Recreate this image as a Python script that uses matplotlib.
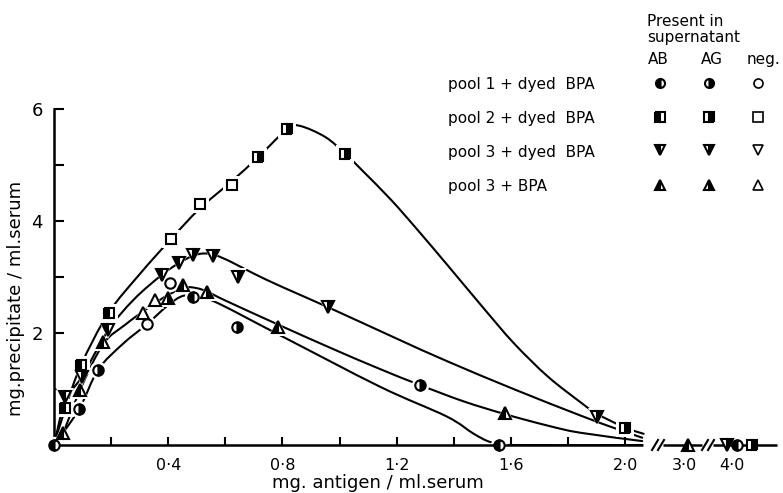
import numpy as np
import matplotlib
matplotlib.use('Agg')
import matplotlib.pyplot as plt
from matplotlib.transforms import ScaledTranslation
from matplotlib.path import Path
from matplotlib.patches import PathPatch

plt.rcParams['font.family'] = ['DejaVu Sans']

# ---------------- data ----------------
# pool 1 + dyed BPA (circles)
pool1_x = [0.0, 0.088, 0.154, 0.326, 0.406, 0.487, 0.641, 1.282, 1.56, 4.0]
pool1_y = [0.0, 0.64, 1.34, 2.16, 2.89, 2.64, 2.11, 1.07, 0.0, 0.0]
pool1_s = ['AB', 'AG', 'AG', 'neg', 'neg', 'AB', 'AG', 'AG', 'AB', 'AB']

# pool 2 + dyed BPA (squares)
pool2_x = [0.039, 0.095, 0.193, 0.41, 0.512, 0.623, 0.715, 0.816, 1.019, 2.0, 4.0]
pool2_y = [0.66, 1.43, 2.36, 3.68, 4.30, 4.64, 5.14, 5.64, 5.20, 0.30, 0.0]
pool2_s = ['AB', 'AB', 'AB', 'neg', 'neg', 'neg', 'AG', 'AG', 'AG', 'AG', 'AG']

# pool 3 + dyed BPA (down triangles)
pool3d_x = [0.039, 0.098, 0.19, 0.378, 0.438, 0.487, 0.557, 0.644, 0.96, 1.90, 4.0]
pool3d_y = [0.86, 1.21, 2.05, 3.04, 3.25, 3.39, 3.38, 3.00, 2.46, 0.50, 0.0]
pool3d_s = ['AB', 'AG', 'AB', 'AB', 'AB', 'AG', 'AG', 'AG', 'AG', 'AG', 'AG']

# pool 3 + BPA (up triangles)
pool3b_x = [0.032, 0.091, 0.172, 0.312, 0.354, 0.40, 0.452, 0.536, 0.785, 1.58, 3.0]
pool3b_y = [0.21, 0.98, 1.84, 2.36, 2.59, 2.63, 2.86, 2.73, 2.11, 0.57, 0.0]
pool3b_s = ['AB', 'AB', 'AB', 'neg', 'neg', 'AG', 'AB', 'AG', 'AB', 'AB', 'AB']

# hand-drawn curves
curveA_x = [0.0, 0.04, 0.095, 0.19, 0.30, 0.41, 0.51, 0.62, 0.715, 0.816, 0.86,
            0.95, 1.02, 1.08, 1.18, 1.27, 1.38, 1.50, 1.61, 1.73, 1.85, 1.90, 2.0, 2.065]
curveA_y = [0.0, 0.66, 1.43, 2.35, 3.05, 3.68, 4.22, 4.70, 5.14, 5.64, 5.70,
            5.50, 5.20, 4.90, 4.38, 3.86, 3.20, 2.47, 1.82, 1.22, 0.74, 0.56, 0.31, 0.20]

curveB_x = [0.0, 0.04, 0.098, 0.19, 0.28, 0.378, 0.438, 0.487, 0.525, 0.565, 0.62,
            0.70, 0.80, 0.96, 1.2, 1.375, 1.609, 1.842, 1.958, 2.06]
curveB_y = [0.0, 0.80, 1.22, 2.05, 2.60, 3.04, 3.25, 3.38, 3.42, 3.39, 3.27,
            3.06, 2.82, 2.46, 1.90, 1.50, 1.00, 0.53, 0.31, 0.13]

curveC_x = [0.0, 0.032, 0.091, 0.172, 0.25, 0.33, 0.40, 0.46, 0.50, 0.536, 0.60,
            0.785, 0.97, 1.14, 1.282, 1.434, 1.58, 1.726, 1.842, 2.06]
curveC_y = [0.0, 0.22, 0.98, 1.80, 2.15, 2.45, 2.68, 2.81, 2.80, 2.74, 2.58,
            2.15, 1.73, 1.36, 1.07, 0.78, 0.55, 0.35, 0.22, 0.07]

curveD_x = [0.0, 0.088, 0.154, 0.24, 0.326, 0.40, 0.45, 0.487, 0.558, 0.78,
            1.142, 1.375, 1.47, 1.53, 1.60, 2.06]
curveD_y = [0.0, 0.64, 1.34, 1.80, 2.16, 2.50, 2.66, 2.64, 2.57, 1.99,
            1.04, 0.51, 0.20, 0.05, 0.0, 0.0]

x_major = [0.4, 0.8, 1.2, 1.6, 2.0, 3.0, 4.0]
x_major_labels = ['0·4', '0·8', '1·2', '1·6', '2·0', '3·0', '4·0']
x_minor = [0.2, 0.6, 1.0, 1.4, 1.8]
y_ticks = [1, 2, 3, 4, 5, 6]
y_labels = ['', '2', '', '4', '', '6']

legend_rows = ['pool 1 + dyed  BPA', 'pool 2 + dyed  BPA', 'pool 3 + dyed  BPA', 'pool 3 + BPA']
legend_cols = ['AB', 'AG', 'neg.']

# ---------------- figure ----------------
W, H = 783, 493
fig = plt.figure(figsize=(W / 100, H / 100), dpi=100)


def fx(px):
    return px / W


def fy(py):
    return 1 - py / H


ax = fig.add_axes([fx(54), fy(445), (777 - 54) / W, (445 - 109) / H])

# broken x axis through a piecewise-linear function scale
KX = np.array([-1.0, 2.1, 3.0, 4.0, 5.0])
KF = np.array([-1.0, 2.1, 2.207, 2.375, 2.54])


def fwd(x):
    return np.interp(np.asarray(x, dtype=float), KX, KF)


def inv(f):
    return np.interp(np.asarray(f, dtype=float), KF, KX)


ax.set_xscale('function', functions=(fwd, inv))
ax.set_xlim(0, float(inv(2.532)))
ax.set_ylim(0, 6)

for s in ['top', 'right', 'bottom']:
    ax.spines[s].set_visible(False)
ax.spines['left'].set_linewidth(1.8)

ax.set_xticks(x_major)
ax.set_xticklabels(x_major_labels)
ax.set_xticks(x_minor, minor=True)
ax.tick_params(axis='x', which='both', direction='in', length=6, width=1.5,
               pad=9, labelsize=11.5)
for t in ax.xaxis.get_major_ticks()[5:]:
    t.tick1line.set_visible(False)
ax.set_yticks(y_ticks)
ax.set_yticklabels(y_labels)
ax.tick_params(axis='y', direction='in', length=7, width=1.5, pad=8, labelsize=13)

# x axis line segments with breaks
for a, b in [(0.0, 2.063), (2.378, 3.375), (3.60, 4.95)]:
    ax.plot([a, b], [0, 0], color='black', lw=1.8, clip_on=False, zorder=4,
            solid_capstyle='butt')
for cx in [655, 661, 705, 711]:
    fig.add_artist(plt.Line2D([fx(cx - 3), fx(cx + 3)], [fy(450), fy(440)],
                              color='black', lw=1.5, transform=fig.transFigure))


# curves drawn as smooth Bezier paths through the read points
def smooth_path(xs, ys):
    P = np.column_stack([xs, ys]).astype(float)
    verts = [P[0]]
    codes = [Path.MOVETO]
    n = len(P)
    for i in range(n - 1):
        p0 = P[i - 1] if i > 0 else P[i]
        p1 = P[i]
        p2 = P[i + 1]
        p3 = P[i + 2] if i + 2 < n else P[i + 1]
        verts += [p1 + (p2 - p0) / 6.0, p2 - (p3 - p1) / 6.0, p2]
        codes += [Path.CURVE4] * 3
    return Path(verts, codes)


for cxs, cys in [(curveA_x, curveA_y), (curveB_x, curveB_y),
                 (curveC_x, curveC_y), (curveD_x, curveD_y)]:
    ax.add_patch(PathPatch(smooth_path(cxs, cys), facecolor='none', edgecolor='black',
                           lw=1.5, zorder=2, capstyle='round', joinstyle='round'))

# markers
fill_map = {'AB': 'left', 'AG': 'right', 'neg': 'none'}
series = [
    (pool1_x, pool1_y, pool1_s, 'o', 7.5, 5),
    (pool2_x, pool2_y, pool2_s, 's', 7.5, 20),
    (pool3d_x, pool3d_y, pool3d_s, 'v', 8.5, -5),
    (pool3b_x, pool3b_y, pool3b_s, '^', 8.5, 4),
]
for xs, ys, ss, m, ms, far_dx in series:
    for x, y, st in zip(xs, ys, ss):
        tr = ax.transData
        if x > 2.5:
            tr = ax.transData + ScaledTranslation(far_dx / 100, 0, fig.dpi_scale_trans)
        ax.plot([x], [y], ls='none', marker=m, ms=ms + 5, mfc='white', mec='white',
                mew=0, zorder=3, clip_on=False, transform=tr)
        fs = fill_map[st]
        if fs == 'none':
            ax.plot([x], [y], ls='none', marker=m, ms=ms, mfc='white', mec='black',
                    mew=1.5, zorder=5, clip_on=False, transform=tr)
        else:
            ax.plot([x], [y], ls='none', marker=m, ms=ms, fillstyle=fs, mfc='black',
                    markerfacecoloralt='white', mec='black', mew=1.5, zorder=5,
                    clip_on=False, transform=tr)

# axis labels
fig.text(fx(16), fy(298), 'mg.precipitate / ml.serum', rotation=90, ha='center',
         va='center', fontsize=13)
fig.text(fx(378), fy(488), 'mg. antigen / ml.serum', ha='center', va='baseline',
         fontsize=13)

# key in the upper right
fs_txt = 11
fig.text(fx(647), fy(26), 'Present in', fontsize=fs_txt, va='baseline')
fig.text(fx(647), fy(42), 'supernatant', fontsize=fs_txt, va='baseline')
col_px = [660, 709, 758]
lab_px = [658, 712, 763]
for lx, lab in zip(lab_px, legend_cols):
    fig.text(fx(lx), fy(64), lab, fontsize=fs_txt, ha='center', va='baseline')
row_base = [89, 123, 157, 191]
row_mid = [83, 117, 150, 185]
row_markers = [('o', 6.5), ('s', 6.5), ('v', 7.5), ('^', 7.5)]
for lab, yb, ym, (m, ms) in zip(legend_rows, row_base, row_mid, row_markers):
    fig.text(fx(448), fy(yb), lab, fontsize=fs_txt, va='baseline')
    for cx, st in zip(col_px, ['AB', 'AG', 'neg']):
        fs = fill_map[st]
        if fs == 'none':
            fig.add_artist(plt.Line2D([fx(cx)], [fy(ym)], ls='none', marker=m, ms=ms,
                                      mfc='white', mec='black', mew=1.2,
                                      transform=fig.transFigure))
        else:
            fig.add_artist(plt.Line2D([fx(cx)], [fy(ym)], ls='none', marker=m, ms=ms,
                                      fillstyle=fs, mfc='black',
                                      markerfacecoloralt='white', mec='black', mew=1.5,
                                      transform=fig.transFigure))

fig.savefig('out.png', dpi=100)
